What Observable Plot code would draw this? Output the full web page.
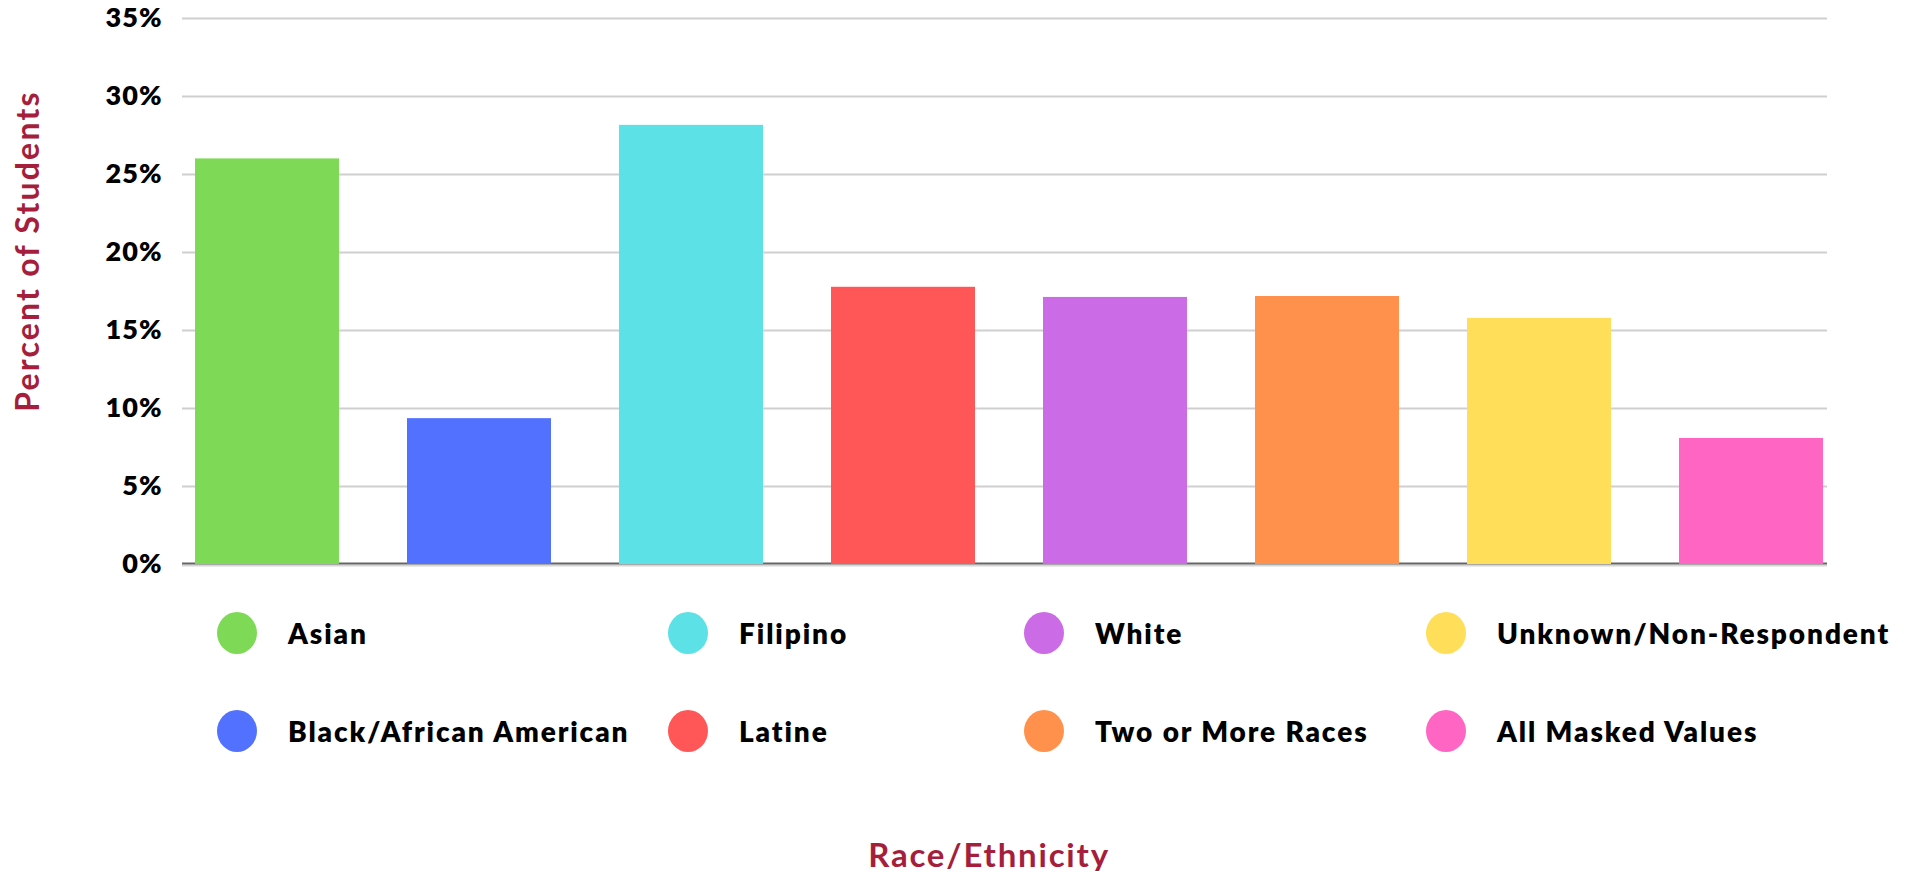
<!DOCTYPE html>
<html>
<head>
<meta charset="utf-8">
<script src="https://cdn.jsdelivr.net/npm/d3@7"></script>
<script src="https://cdn.jsdelivr.net/npm/@observablehq/plot@0.6"></script>
<style>
  html, body { margin: 0; padding: 0; background: #fff; }
  body { width: 1905px; height: 871px; overflow: hidden; font-family: Lato, "Open Sans", sans-serif; position: relative; }
  #chart svg { display: block; }
  #legend {
    display: grid;
    grid-template-columns: 451px 356px 402px auto;
    grid-template-rows: 98px 98px;
    grid-auto-flow: column;
    padding-left: 217px;
    padding-top: 4px;
  }
  .item { display: flex; align-items: center; }
  .sw { width: 40px; height: 42px; border-radius: 50%; flex: none; margin-right: 31px; }
  .lab { font-size: 28px; font-weight: 800; letter-spacing: 1.9px; color: #000; white-space: nowrap; }
  #xlabel {
    position: absolute; left: 989px; top: 854px; transform: translate(-50%, -50%);
    font-size: 33px; line-height: 40px; font-weight: 700; letter-spacing: 1.8px; color: #a51f3d; white-space: nowrap;
  }
  #ylabel {
    position: absolute; left: 27px; top: 251px; transform: translate(-50%, -50%) rotate(-90deg);
    font-size: 32px; line-height: 36px; font-weight: 700; letter-spacing: 2.2px; color: #a51f3d; white-space: nowrap;
  }
</style>
</head>
<body>
<div id="chart"></div>
<div id="legend"></div>
<div id="xlabel"></div>
<div id="ylabel"></div>
<script>
const categories = ["Asian", "Black/African American", "Filipino", "Latine", "White", "Two or More Races", "Unknown/Non-Respondent", "All Masked Values"];
const values = [26.0, 9.35, 28.15, 17.77, 17.12, 17.18, 15.78, 8.08];
const colors = ["#7ed957", "#5271ff", "#5ce1e6", "#ff5757", "#cb6ce6", "#ff914d", "#ffde59", "#ff66c4"];
const yTicks = [0, 5, 10, 15, 20, 25, 30, 35];
const yLabel = "Percent of Students";
const xLabel = "Race/Ethnicity";

const data = categories.map((c, i) => ({category: c, value: values[i]}));

const chart = Plot.plot({
  width: 1905,
  height: 580,
  marginLeft: 182,
  marginRight: 78,
  marginTop: 18,
  marginBottom: 16,
  style: {fontFamily: "Lato, 'Open Sans', sans-serif", overflow: "visible"},
  x: {type: "band", domain: categories, paddingInner: 0.32, paddingOuter: 0, insetLeft: 10, axis: null},
  y: {domain: [0, 35], axis: null},
  color: {domain: categories, range: colors},
  marks: [
    Plot.ruleY(yTicks.filter(d => d > 0), {stroke: "#cfcfcf", strokeWidth: 2}),
    Plot.ruleY([0], {stroke: "#d6d6d6", strokeWidth: 2, dy: 1}),
    Plot.ruleY([0], {stroke: "#666", strokeWidth: 2, dy: -1}),
    Plot.barY(data, {x: "category", y: "value", fill: "category"}),
    Plot.axisY({ticks: yTicks, tickFormat: d => d + "%", tickSize: 0, tickPadding: 20, label: null, fontSize: 27, fontWeight: 800, fill: "#000"})
  ]
});
chart.querySelectorAll("g[aria-label='y-axis tick label'] text").forEach(t => t.setAttribute("letter-spacing", "1"));
document.getElementById("chart").appendChild(chart);

const legend = document.getElementById("legend");
categories.forEach((c, i) => {
  const item = document.createElement("div");
  item.className = "item";
  const sw = document.createElement("div");
  sw.className = "sw";
  sw.style.background = colors[i];
  const lab = document.createElement("span");
  lab.className = "lab";
  lab.textContent = c;
  item.appendChild(sw);
  item.appendChild(lab);
  legend.appendChild(item);
});
document.getElementById("xlabel").textContent = xLabel;
document.getElementById("ylabel").textContent = yLabel;
</script>
</body>
</html>
